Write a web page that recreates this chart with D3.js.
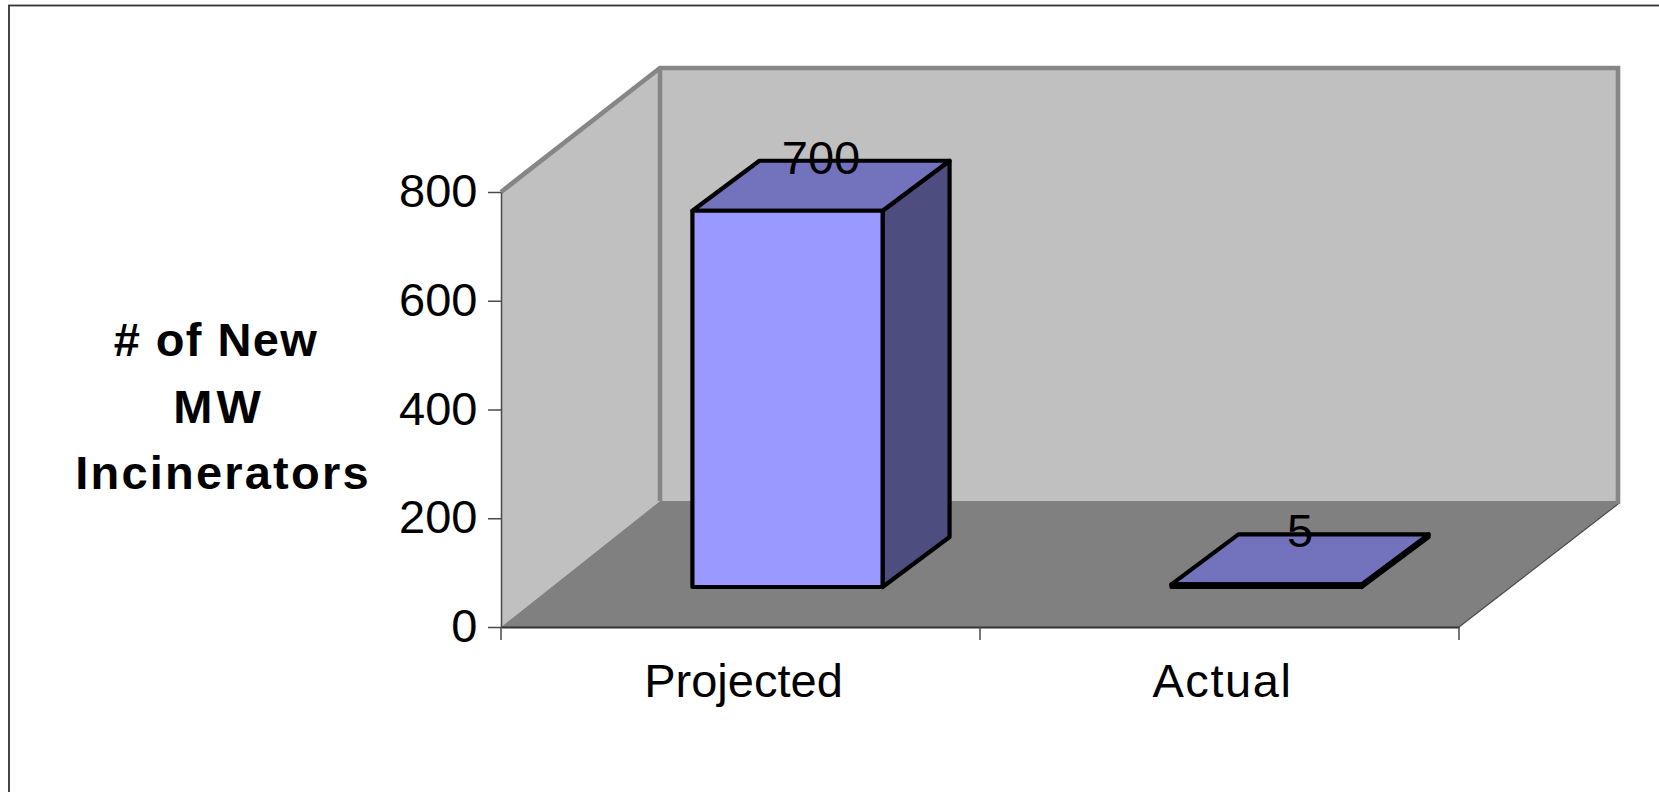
<!DOCTYPE html>
<html>
<head>
<meta charset="utf-8">
<script src="https://cdn.jsdelivr.net/npm/d3@7"></script>
<style>
  html, body { margin: 0; padding: 0; background: #fff; overflow: hidden; }
  svg { display: block; }
  text { font-family: "Liberation Sans", Arial, sans-serif; fill: #000; }
</style>
</head>
<body>
<script>
// Chart values
const categories = ["Projected", "Actual"];
const values = [700, 5];
const yTicks = [0, 200, 400, 600, 800];
const yTitleLines = ["# of New", "MW", "Incinerators"];

const W = 1659, H = 792;
const FONT = 47;

const colors = {
  frame: "#333333", wall: "#c0c0c0", wallEdge: "#868686", floor: "#808080",
  axis: "#4a4a4a", front: "#9999ff", top: "#7373bd", side: "#4d4d80"
};

// Oblique projection: how far the back of the box sits from its front plane
const box = { dx: 159, dyFloor: -126, dyTop: -124 };
// Placement of the columns within the box, and their own depth
const bar = { offX: 47, offY: -40, dx: 67, dy: -50 };

const x = d3.scaleBand().domain(categories).range([501, 1459]).paddingInner(0.603).paddingOuter(0.3015);
const y = d3.scaleLinear().domain([0, 800]).range([627, 192]);
// Columns stand further back, so their value scale is slightly compressed
const yBar = d3.scaleLinear().domain([0, 800]).range([y(0) + bar.offY, y(0) + bar.offY - 430]);

const svg = d3.select("body").append("svg").attr("width", W).attr("height", H);
const poly = pts => pts.map(p => p.join(",")).join(" ");

// Outer frame runs off the right and bottom of the page
svg.append("rect").attr("x", 9).attr("y", 5.5).attr("width", W + 40).attr("height", H + 40)
  .attr("fill", "#fff").attr("stroke", colors.frame).attr("stroke-width", 1.8);

// Box: walls and floor
const [xL, xR] = x.range();
const y0 = y(0), yT = y(yTicks[yTicks.length - 1]);
const backX0 = xL + box.dx, backX1 = xR + box.dx;
const backBase = y0 + box.dyFloor, backTop = yT + box.dyTop;
const walls = svg.append("g");
walls.append("polygon")
  .attr("points", poly([[xL, y0], [xL, yT], [backX0, backTop], [backX0, backBase]]))
  .attr("fill", colors.wall);
walls.append("polygon")
  .attr("points", poly([[backX0, backBase], [backX0, backTop], [backX1, backTop], [backX1, backBase]]))
  .attr("fill", colors.wall);
walls.append("polygon")
  .attr("points", poly([[xL, y0], [backX0, backBase], [backX1, backBase], [backX1, backBase + 3], [xR, y0]]))
  .attr("fill", colors.floor);
walls.append("polyline")
  .attr("points", poly([[xL, yT], [backX0, backTop], [backX1, backTop], [backX1, backBase + 3]]))
  .attr("fill", "none").attr("stroke", colors.wallEdge).attr("stroke-width", 4.6);
walls.append("line")
  .attr("x1", backX0).attr("x2", backX0)
  .attr("y1", backTop).attr("y2", backBase)
  .attr("stroke", colors.wallEdge).attr("stroke-width", 4.6);
walls.append("line")
  .attr("x1", xR).attr("y1", y0).attr("x2", backX1).attr("y2", backBase + 3)
  .attr("stroke", colors.axis).attr("stroke-width", 1.2);

// Value axis
const gy = svg.append("g").attr("transform", `translate(${xL},0)`)
  .call(d3.axisLeft(y).tickValues(yTicks).tickSize(13).tickPadding(10.5).tickSizeOuter(0));
gy.select(".domain").attr("stroke", colors.axis).attr("stroke-width", 1.5);
gy.selectAll(".tick line").attr("stroke", colors.axis).attr("stroke-width", 1.5);
gy.selectAll(".tick text").attr("font-size", FONT).attr("font-family", "Liberation Sans").attr("dy", "0.31em").attr("fill", "#000");

// Category axis: ticks sit on the category boundaries
const gx = svg.append("g").attr("transform", `translate(0,${y0})`)
  .call(d3.axisBottom(x).tickSize(0).tickPadding(0).tickSizeOuter(0));
gx.select(".domain").attr("stroke", "#333").attr("stroke-width", 1.8);
gx.selectAll(".tick text").attr("font-size", FONT).attr("font-family", "Liberation Sans")
  .attr("fill", "#000").attr("y", 70).attr("dy", 0).attr("x", 3).attr("letter-spacing", d => d === "Actual" ? 1.6 : 0);
const step = x.step();
gx.selectAll("line.edge").data(d3.range(categories.length + 1)).join("line").attr("class", "edge")
  .attr("x1", i => xL + i * step).attr("x2", i => xL + i * step)
  .attr("y1", 0).attr("y2", 13).attr("stroke", colors.axis).attr("stroke-width", 1.5);

// Columns
const data = categories.map((c, i) => ({ c, v: values[i] }));
svg.append("g").selectAll("g").data(data).join("g")
  .each(function (d) {
    const g = d3.select(this);
    const l = x(d.c) + bar.offX, r = l + x.bandwidth();
    const b = yBar(0), t = yBar(d.v);
    const style = s => s.attr("stroke", "#000").attr("stroke-width", 4.2).attr("stroke-linejoin", "round");
    g.append("polygon").attr("points", poly([[r, b], [r, t], [r + bar.dx, t + bar.dy], [r + bar.dx, b + bar.dy]]))
      .attr("fill", colors.side).call(style);
    g.append("polygon").attr("points", poly([[l, t], [l + bar.dx, t + bar.dy], [r + bar.dx, t + bar.dy], [r, t]]))
      .attr("fill", colors.top).call(style);
    g.append("polygon").attr("points", poly([[l, b], [l, t], [r, t], [r, b]]))
      .attr("fill", colors.front).call(style);
    g.append("text").attr("text-anchor", "middle").attr("font-size", FONT)
      .attr("x", (l + r + bar.dx) / 2)
      .attr("y", t + bar.dy / 2 - 12)
      .text(d.v);
  });

// Axis title, three centred bold lines
const titleCenters = [216, 219, 223];
const titleSpacing = [1.4, 4, 2.2];
svg.append("g").selectAll("text").data(yTitleLines).join("text")
  .attr("text-anchor", "middle").attr("font-weight", "bold").attr("font-size", FONT)
  .attr("letter-spacing", (d, i) => titleSpacing[i])
  .attr("x", (d, i) => titleCenters[i])
  .attr("y", (d, i) => 356 + i * 66.5)
  .text(d => d);
</script>
</body>
</html>
